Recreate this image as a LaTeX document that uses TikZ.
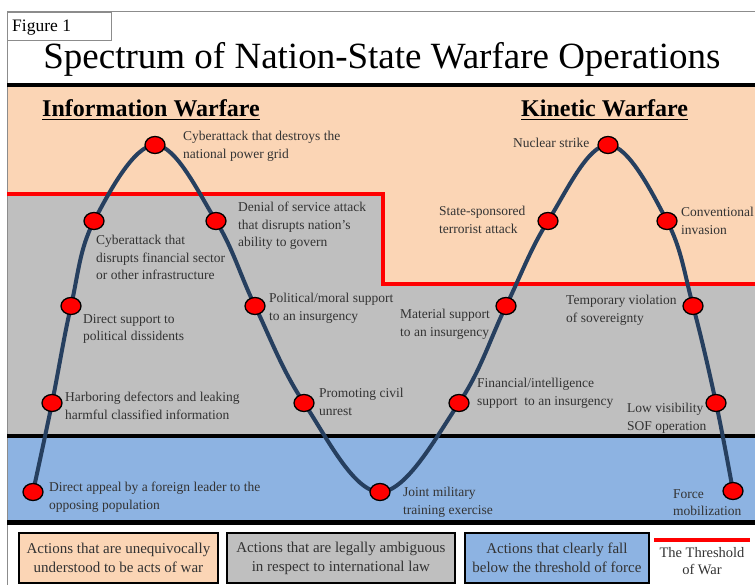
\documentclass[tikz,border=0pt]{standalone}
\usepackage{fontspec}
\setmainfont{Liberation Serif}
\usetikzlibrary{shapes.geometric}
\definecolor{peach}{HTML}{FBD5B5}
\definecolor{grayreg}{HTML}{BFBFBF}
\definecolor{bluereg}{HTML}{8DB3E2}
\definecolor{curvecol}{HTML}{263F5F}
\definecolor{lbl}{HTML}{333333}
\definecolor{framecol}{HTML}{8C8C8C}
\begin{document}
\begin{tikzpicture}[x=1pt,y=-1pt,
  dot/.style={ellipse, draw=black, line width=1.3pt, fill=red, minimum width=20pt, minimum height=17pt, inner sep=0pt},
  lab/.style={font=\fontsize{13.5}{17.5}\selectfont, text=lbl, align=left, inner sep=0pt, anchor=north west, execute at begin node=\strut},
  heading/.style={font=\fontsize{24}{28}\selectfont\bfseries, text=black, inner sep=0pt, anchor=base west},
  legbox/.style={draw=black, line width=1.8pt, font=\fontsize{15}{19}\selectfont, text=lbl, align=center, inner sep=0pt, minimum height=50pt},
  blackline/.style={line width=3.8pt, black},
  wave/.style={line width=4pt, curvecol, line cap=round}
]
\useasboundingbox (0,0) rectangle (755,585);
\fill[white] (0,0) rectangle (755,585);
% regions
\fill[peach] (7,86) rectangle (755,436);
\fill[grayreg] (7,194) -- (383,194) -- (383,284) -- (755,284) -- (755,436) -- (7,436) -- cycle;
\fill[bluereg] (7,436) rectangle (755,522);
% frame
\draw[framecol, line width=1pt] (7,585) -- (7,12) -- (755,12);
\node[draw=framecol, line width=1pt, minimum width=104pt, minimum height=28pt, anchor=north west, inner sep=0pt] (figbox) at (7,12) {};
\node[font=\fontsize{17.5}{20}\selectfont, anchor=base west, inner sep=0pt] (figlabel) at (12,32) {Figure 1};
% title
\node[font=\fontsize{37}{42}\selectfont, anchor=base, inner sep=0pt] (title) at (382,69) {Spectrum of Nation-State Warfare Operations};
% lines
\draw[blackline, line width=3.4pt] (7,85) -- (755,85);
\draw[blackline] (7,436) -- (755,436);
\draw[blackline, line width=4.4pt] (7,522.5) -- (755,522.5);
\draw[red, line width=4.3pt] (7,194) -- (383,194) -- (383,284) -- (755,284);
% headings
\node[heading] (info) at (42,117) {\underline{Information Warfare}};
\node[heading] (kin) at (521,117) {\underline{Kinetic Warfare}};
% wave coordinates
\coordinate (c1) at (33,492);
\coordinate (c2) at (52,403);
\coordinate (c3) at (71,306);
\coordinate (c4) at (94,221);
\coordinate (c5) at (155,145);
\coordinate (c6) at (216,221);
\coordinate (c7) at (255,306);
\coordinate (c8) at (304,403);
\coordinate (c9) at (380,492);
\coordinate (c10) at (459,403);
\coordinate (c11) at (506,306);
\coordinate (c12) at (548,221);
\coordinate (c13) at (608,145);
\coordinate (c14) at (667,221);
\coordinate (c15) at (693,306);
\coordinate (c16) at (716,403);
\coordinate (c17) at (733,491);
\draw[wave] plot[smooth, tension=0.62] coordinates {(c1) (c2) (c3) (c4) (c5) (c6) (c7) (c8) (c9) (c10) (c11) (c12) (c13) (c14) (c15) (c16) (c17)};
\foreach \i in {1,...,17} { \node[dot] (d\i) at (c\i) {}; }
% labels
\node[lab] (l5) at (183,131) {Cyberattack that destroys the\\national power grid};
\node[lab] (l4) at (96,235) {Cyberattack that\\disrupts financial sector\\or other infrastructure};
\node[lab] (l6) at (238,202) {Denial of service attack\\that disrupts nation’s\\ability to govern};
\node[lab] (l3) at (83,314) {Direct support to\\political dissidents};
\node[lab] (l7) at (269,293) {Political/moral support\\to an insurgency};
\node[lab] (l2) at (65,392) {Harboring defectors and leaking\\harmful classified information};
\node[lab] (l8) at (319,388) {Promoting civil\\unrest};
\node[lab] (l1) at (49,482) {Direct appeal by a foreign leader to the\\opposing population};
\node[lab] (l9) at (403,487) {Joint military\\training exercise};
\node[lab] (l10) at (477,378) {Financial/intelligence\\support\ \ to an insurgency};
\node[lab] (l11) at (400,309) {Material support\\to an insurgency};
\node[lab] (l12) at (439,206) {State-sponsored\\terrorist attack};
\node[lab] (l13) at (513,135) {Nuclear strike};
\node[lab] (l14) at (681,207) {Conventional\\invasion};
\node[lab] (l15) at (566,295) {Temporary violation\\of sovereignty};
\node[lab] (l16) at (627,403) {Low visibility\\SOF operation};
\node[lab] (l17) at (673,489) {Force\\mobilization};
% legend
\node[legbox, fill=peach, minimum width=199pt, anchor=north west] (leg1) at (18,532) {Actions that are unequivocally\\understood to be acts of war};
\node[legbox, fill=grayreg, minimum width=228pt, anchor=north west] (leg2) at (226,532) {Actions that are legally ambiguous\\in respect to international law};
\node[legbox, fill=bluereg, minimum width=184pt, anchor=north west] (leg3) at (464,532) {Actions that clearly fall\\below the threshold of force};
\coordinate (tl1) at (654,540);
\coordinate (tl2) at (750,540);
\draw[red, line width=3.5pt] (tl1) -- (tl2);
\node[font=\fontsize{14.5}{17.5}\selectfont, text=lbl, align=center, inner sep=0pt, anchor=north] (thr) at (702,545) {\strut The Threshold\\of War};
\end{tikzpicture}
\end{document}
